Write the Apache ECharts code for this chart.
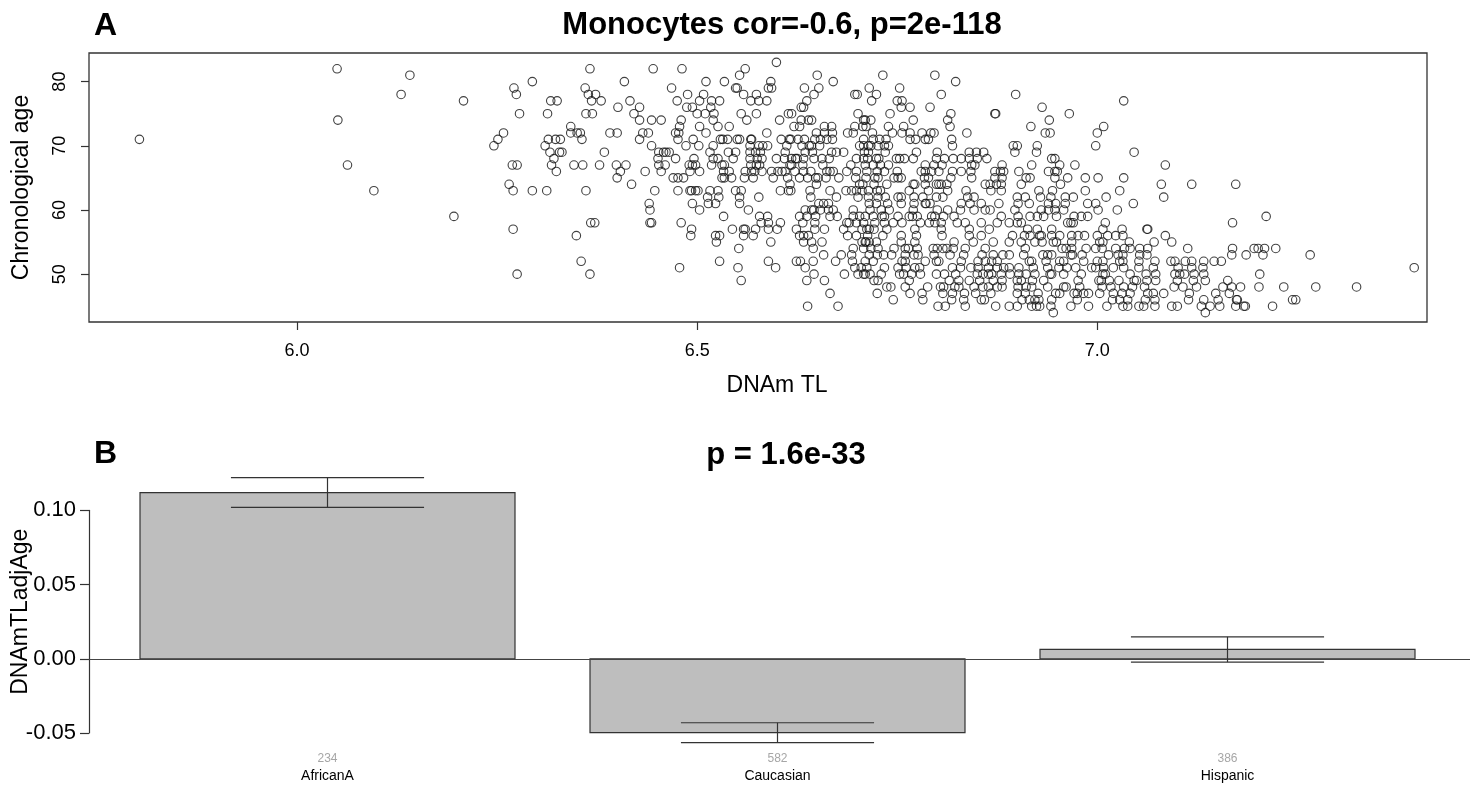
<!DOCTYPE html>
<html>
<head>
<meta charset="utf-8">
<title>Monocytes DNAm TL</title>
<script src="https://cdn.jsdelivr.net/npm/echarts@6.0.0/dist/echarts.min.js"></script>
<style>
  html, body { margin: 0; padding: 0; background: #fff; }
  #main { width: 1473px; height: 785px; }
</style>
</head>
<body>
<div id="main"></div>
<script>
const ageLevels = [83, 82, 81, 80, 79, 78, 77, 76, 75, 74, 73, 72, 71, 70, 69, 68, 67, 66, 65, 64,
  63, 62, 61, 60, 59, 58, 57, 56, 55, 54, 53, 52, 51, 50, 49, 48, 47, 46, 45, 44];
const tlAtAge = [
  [6.599],
  [6.050, 6.366, 6.445, 6.481, 6.560],
  [6.141, 6.553, 6.650, 6.732, 6.797],
  [6.294, 6.409, 6.511, 6.534, 6.592, 6.670, 6.823],
  [6.271, 6.360, 6.468, 6.548, 6.550, 6.589, 6.593, 6.634, 6.652, 6.715, 6.753],
  [6.130, 6.274, 6.364, 6.373, 6.488, 6.508, 6.558, 6.574, 6.646, 6.697, 6.700, 6.724, 6.805, 6.898],
  [6.208, 6.317, 6.325, 6.368, 6.380, 6.416, 6.475, 6.503, 6.518, 6.528, 6.567, 6.577, 6.587, 6.637, 6.718, 6.750, 6.756, 7.033],
  [6.401, 6.428, 6.487, 6.494, 6.517, 6.630, 6.633, 6.755, 6.766, 6.791, 6.931],
  [6.278, 6.313, 6.361, 6.369, 6.421, 6.500, 6.510, 6.521, 6.555, 6.574, 6.614, 6.618, 6.701, 6.741, 6.817, 6.872, 6.873, 6.965],
  [6.051, 6.428, 6.443, 6.455, 6.480, 6.520, 6.562, 6.603, 6.630, 6.639, 6.643, 6.708, 6.710, 6.717, 6.770, 6.813, 6.940],
  [6.342, 6.478, 6.503, 6.526, 6.540, 6.621, 6.628, 6.659, 6.668, 6.697, 6.707, 6.711, 6.739, 6.758, 6.816, 6.917, 7.008],
  [6.258, 6.342, 6.350, 6.354, 6.391, 6.400, 6.432, 6.439, 6.473, 6.477, 6.511, 6.587, 6.649, 6.659, 6.669, 6.688, 6.695,
   6.719, 6.744, 6.756, 6.766, 6.781, 6.792, 6.796, 6.837, 6.935, 6.941, 7.000],
  [5.803, 6.251, 6.314, 6.323, 6.329, 6.356, 6.428, 6.476, 6.495, 6.529, 6.532, 6.538, 6.550, 6.553, 6.567, 6.568, 6.605,
   6.615, 6.617, 6.626, 6.634, 6.647, 6.654, 6.662, 6.669, 6.708, 6.720, 6.728, 6.736, 6.766, 6.773, 6.785, 6.789, 6.818],
  [6.246, 6.310, 6.443, 6.486, 6.502, 6.520, 6.566, 6.577, 6.582, 6.588, 6.612, 6.631, 6.640, 6.643, 6.653, 6.703, 6.708,
   6.714, 6.717, 6.726, 6.734, 6.739, 6.819, 6.895, 6.900, 6.925, 6.998],
  [6.316, 6.328, 6.331, 6.384, 6.452, 6.458, 6.461, 6.465, 6.516, 6.539, 6.548, 6.566, 6.573, 6.579, 6.610, 6.635, 6.644,
   6.668, 6.674, 6.683, 6.709, 6.714, 6.735, 6.774, 6.800, 6.840, 6.849, 6.858, 6.897, 6.924, 7.046],
  [6.321, 6.451, 6.473, 6.496, 6.520, 6.526, 6.545, 6.566, 6.575, 6.581, 6.599, 6.609, 6.618, 6.623, 6.625, 6.633, 6.646,
   6.656, 6.665, 6.699, 6.708, 6.713, 6.724, 6.727, 6.749, 6.753, 6.759, 6.770, 6.799, 6.809, 6.820, 6.830, 6.840, 6.850,
   6.862, 6.943, 6.947],
  [6.063, 6.269, 6.275, 6.318, 6.346, 6.357, 6.378, 6.399, 6.411, 6.452, 6.460, 6.490, 6.494, 6.498, 6.518, 6.531, 6.534,
   6.567, 6.574, 6.578, 6.616, 6.618, 6.632, 6.657, 6.692, 6.710, 6.720, 6.729, 6.739, 6.785, 6.796, 6.806, 6.843, 6.847,
   6.881, 6.918, 6.953, 6.972, 7.085],
  [6.324, 6.404, 6.435, 6.455, 6.491, 6.503, 6.533, 6.540, 6.560, 6.568, 6.572, 6.581, 6.593, 6.601, 6.606, 6.610, 6.622,
   6.633, 6.642, 6.662, 6.666, 6.670, 6.687, 6.699, 6.712, 6.725, 6.734, 6.750, 6.780, 6.785, 6.793, 6.802, 6.819, 6.830,
   6.842, 6.872, 6.879, 6.883, 6.902, 6.939, 6.947, 6.950],
  [6.400, 6.470, 6.476, 6.483, 6.531, 6.534, 6.543, 6.559, 6.570, 6.595, 6.613, 6.628, 6.638, 6.648, 6.651, 6.661, 6.677,
   6.698, 6.711, 6.722, 6.726, 6.746, 6.751, 6.755, 6.784, 6.789, 6.817, 6.843, 6.872, 6.881, 6.911, 6.916, 6.947, 6.963,
   6.985, 7.001, 7.033],
  [6.265, 6.418, 6.616, 6.649, 6.703, 6.707, 6.721, 6.737, 6.770, 6.772, 6.785, 6.799, 6.802, 6.805, 6.812, 6.860, 6.866,
   6.874, 6.880, 6.905, 6.954, 7.080, 7.118, 7.173],
  [6.096, 6.270, 6.294, 6.312, 6.361, 6.447, 6.476, 6.491, 6.493, 6.498, 6.501, 6.516, 6.526, 6.548, 6.555, 6.604, 6.614,
   6.617, 6.641, 6.666, 6.686, 6.693, 6.699, 6.706, 6.714, 6.725, 6.729, 6.765, 6.789, 6.813, 6.836, 6.867, 6.880, 6.927,
   6.944, 6.985, 7.028],
  [6.513, 6.527, 6.553, 6.577, 6.642, 6.674, 6.701, 6.714, 6.726, 6.735, 6.751, 6.755, 6.771, 6.782, 6.799, 6.807, 6.838,
   6.846, 6.900, 6.910, 6.929, 6.942, 6.960, 6.970, 7.011, 7.083],
  [6.440, 6.494, 6.514, 6.523, 6.553, 6.652, 6.658, 6.664, 6.715, 6.724, 6.738, 6.755, 6.771, 6.785, 6.786, 6.791, 6.830,
   6.841, 6.855, 6.877, 6.901, 6.915, 6.939, 6.948, 6.960, 6.988, 6.998, 7.045],
  [6.441, 6.503, 6.564, 6.635, 6.643, 6.646, 6.654, 6.664, 6.670, 6.695, 6.716, 6.730, 6.740, 6.770, 6.800, 6.813, 6.829,
   6.846, 6.860, 6.866, 6.897, 6.930, 6.939, 6.947, 6.958, 7.001, 7.025],
  [6.196, 6.533, 6.578, 6.588, 6.628, 6.637, 6.648, 6.666, 6.675, 6.695, 6.703, 6.710, 6.720, 6.731, 6.734, 6.751, 6.765,
   6.769, 6.775, 6.793, 6.797, 6.808, 6.821, 6.880, 6.901, 6.916, 6.925, 6.933, 6.949, 6.971, 6.980, 6.988, 7.211],
  [6.367, 6.372, 6.441, 6.443, 6.480, 6.580, 6.589, 6.604, 6.632, 6.647, 6.687, 6.690, 6.699, 6.708, 6.722, 6.734, 6.745,
   6.756, 6.779, 6.790, 6.797, 6.805, 6.825, 6.835, 6.855, 6.875, 6.890, 6.900, 6.905, 6.963, 6.967, 6.970, 7.010, 7.169],
  [6.270, 6.493, 6.544, 6.558, 6.560, 6.573, 6.589, 6.600, 6.624, 6.647, 6.659, 6.683, 6.706, 6.712, 6.715, 6.721, 6.737,
   6.772, 6.805, 6.840, 6.865, 6.913, 6.925, 6.943, 7.007, 7.031, 7.062, 7.063],
  [6.349, 6.492, 6.523, 6.528, 6.558, 6.570, 6.628, 6.633, 6.639, 6.688, 6.699, 6.713, 6.732, 6.755, 6.774, 6.806, 6.840,
   6.855, 6.894, 6.909, 6.916, 6.928, 6.930, 6.943, 6.953, 6.968, 6.976, 6.984, 7.000, 7.013, 7.023, 7.032, 7.085],
  [6.524, 6.592, 6.633, 6.643, 6.656, 6.706, 6.710, 6.711, 6.715, 6.724, 6.755, 6.772, 6.821, 6.845, 6.870, 6.890, 6.905,
   6.922, 6.931, 6.945, 6.949, 6.968, 7.003, 7.007, 7.040, 7.071, 7.093],
  [6.552, 6.645, 6.695, 6.708, 6.717, 6.726, 6.746, 6.760, 6.764, 6.775, 6.795, 6.800, 6.807, 6.812, 6.820, 6.835, 6.860,
   6.910, 6.956, 6.961, 6.968, 6.986, 6.998, 7.006, 7.023, 7.034, 7.041, 7.053, 7.063, 7.113, 7.169, 7.196, 7.201, 7.209, 7.223],
  [6.658, 6.680, 6.693, 6.715, 6.725, 6.733, 6.743, 6.760, 6.771, 6.776, 6.796, 6.816, 6.833, 6.856, 6.870, 6.882, 6.890,
   6.908, 6.932, 6.938, 6.943, 6.967, 6.969, 6.981, 7.014, 7.026, 7.032, 7.053, 7.062, 7.168, 7.186, 7.207, 7.266],
  [6.355, 6.528, 6.589, 6.624, 6.629, 6.645, 6.673, 6.694, 6.710, 6.720, 6.756, 6.760, 6.785, 6.799, 6.802, 6.830, 6.851,
   6.860, 6.868, 6.875, 6.915, 6.918, 6.936, 6.953, 6.958, 6.983, 7.000, 7.007, 7.028, 7.032, 7.052, 7.072, 7.092, 7.097,
   7.110, 7.118, 7.133, 7.146, 7.155],
  [6.478, 6.551, 6.598, 6.635, 6.697, 6.705, 6.712, 6.734, 6.751, 6.761, 6.772, 6.778, 6.819, 6.829, 6.842, 6.851, 6.864,
   6.875, 6.883, 6.890, 6.902, 6.920, 6.938, 6.952, 6.962, 6.973, 6.993, 6.998, 7.008, 7.020, 7.033, 7.052, 7.070, 7.101,
   7.118, 7.132, 7.396],
  [6.275, 6.366, 6.646, 6.684, 6.701, 6.708, 6.710, 6.716, 6.730, 6.753, 6.758, 6.768, 6.779, 6.799, 6.809, 6.823, 6.850,
   6.857, 6.864, 6.868, 6.880, 6.891, 6.902, 6.911, 6.922, 6.941, 6.943, 6.958, 6.980, 7.007, 7.010, 7.041, 7.061, 7.073,
   7.097, 7.103, 7.109, 7.121, 7.133, 7.203],
  [6.555, 6.637, 6.659, 6.721, 6.726, 6.765, 6.815, 6.827, 6.840, 6.853, 6.870, 6.881, 6.900, 6.905, 6.919, 6.933, 6.976,
   7.002, 7.005, 7.015, 7.027, 7.046, 7.049, 7.062, 7.073, 7.100, 7.120, 7.135, 7.163],
  [6.737, 6.742, 6.760, 6.788, 6.804, 6.808, 6.822, 6.827, 6.846, 6.857, 6.864, 6.875, 6.881, 6.901, 6.911, 6.918, 6.938,
   6.958, 6.961, 6.978, 7.006, 7.017, 7.033, 7.044, 7.059, 7.096, 7.107, 7.124, 7.157, 7.168, 7.179, 7.202, 7.233, 7.273, 7.324],
  [6.666, 6.725, 6.766, 6.781, 6.807, 6.819, 6.834, 6.848, 6.867, 6.900, 6.910, 6.926, 6.948, 6.953, 6.971, 6.975, 6.983,
   6.989, 7.003, 7.020, 7.031, 7.041, 7.063, 7.070, 7.083, 7.115, 7.148, 7.165],
  [6.745, 6.782, 6.818, 6.833, 6.855, 6.859, 6.906, 6.915, 6.922, 6.927, 6.943, 6.975, 7.019, 7.028, 7.038, 7.060, 7.072,
   7.114, 7.133, 7.151, 7.174, 7.175, 7.244, 7.248],
  [6.638, 6.676, 6.801, 6.810, 6.835, 6.873, 6.890, 6.900, 6.918, 6.924, 6.928, 6.942, 6.967, 6.989, 7.012, 7.032, 7.038,
   7.052, 7.058, 7.072, 7.093, 7.100, 7.130, 7.141, 7.153, 7.173, 7.183, 7.185, 7.219],
  [6.945, 7.135]
];
const tlTicks = [6.0, 6.5, 7.0];
const ageTicks = [50, 60, 70, 80];

// panel B: DNAmTLadjAge by ethnicity
const groups = ['AfricanA', 'Caucasian', 'Hispanic'];
const groupN = [234, 582, 386];
const groupMean = [0.112, -0.0498, 0.0063];
const groupLow = [0.1021, -0.0565, -0.0022];
const groupHigh = [0.1221, -0.0431, 0.0148];
const barTicks = [-0.05, 0.00, 0.05, 0.10];

// R barplot puts bar i at 0.7 + 1.2*i (width 1, space 0.2)
const barPos = groups.map((g, i) => 0.7 + 1.2 * i);

const points = [];
ageLevels.forEach(function (age, i) {
  tlAtAge[i].forEach(function (tl) { points.push([tl, age]); });
});

const FONT = '"Liberation Sans", Arial, sans-serif';
const chart = echarts.init(document.getElementById('main'), null, { renderer: 'canvas' });

chart.setOption({
  animation: false,
  backgroundColor: '#fff',
  textStyle: { fontFamily: FONT, color: '#000' },
  title: [
    { text: 'A', left: 89, top: 5, textStyle: { fontSize: 32, fontWeight: 'bold', fontFamily: FONT, color: '#000' } },
    { text: 'Monocytes cor=-0.6, p=2e-118', left: 777, top: 5, textAlign: 'center',
      textStyle: { fontSize: 31, fontWeight: 'bold', fontFamily: FONT, color: '#000' } },
    { text: 'B', left: 89, top: 433, textStyle: { fontSize: 32, fontWeight: 'bold', fontFamily: FONT, color: '#000' } },
    { text: 'p = 1.6e-33', left: 781, top: 435, textAlign: 'center',
      textStyle: { fontSize: 31, fontWeight: 'bold', fontFamily: FONT, color: '#000' } }
  ],
  grid: [
    { left: 89, right: 46, top: 53, height: 269, show: true, borderColor: '#333', borderWidth: 1.3,
      backgroundColor: 'transparent', containLabel: false, outerBoundsMode: 'none' },
    { left: 89, right: 3, top: 510.4, height: 222.6, containLabel: false, outerBoundsMode: 'none' }
  ],
  xAxis: [
    {
      gridIndex: 0, type: 'value', min: 5.74, max: 7.412,
      name: 'DNAm TL', nameLocation: 'middle', nameGap: 52, nameMoveOverlap: false,
      nameTextStyle: { fontSize: 23, fontFamily: FONT, color: '#000', padding: [0, 0, 0, 38] },
      axisLine: { show: false },
      axisTick: { show: true, inside: false, length: 8, customValues: tlTicks, lineStyle: { color: '#333', width: 1.2 } },
      axisLabel: { customValues: tlTicks, margin: 20, fontSize: 18, color: '#000', fontFamily: FONT,
        formatter: function (v) { return v.toFixed(1); } },
      splitLine: { show: false }
    },
    {
      // bar centres at 327.5 / 777.5 / 1227.5 px -> 375 px per unit
      gridIndex: 1, type: 'value', min: 0.064, max: 0.064 + 1381 / 375, position: 'bottom',
      axisLine: { show: false, onZero: false },
      axisTick: { show: false },
      axisLabel: {
        customValues: barPos, margin: 17, interval: 0,
        formatter: function (v) {
          const i = Math.round((v - 0.7) / 1.2);
          return '{n|' + groupN[i] + '}\n{c|' + groups[i] + '}';
        },
        rich: {
          n: { fontSize: 12, color: '#a6a6a6', fontFamily: FONT, lineHeight: 17, align: 'center' },
          c: { fontSize: 14, color: '#000', fontFamily: FONT, lineHeight: 18, align: 'center' }
        }
      },
      splitLine: { show: false }
    }
  ],
  yAxis: [
    {
      gridIndex: 0, type: 'value', min: 42.54, max: 84.46,
      name: 'Chronological age', nameLocation: 'middle', nameGap: 56, nameRotate: 90, nameMoveOverlap: false,
      nameTextStyle: { fontSize: 23, fontFamily: FONT, color: '#000' },
      axisLine: { show: false },
      axisTick: { show: true, inside: false, length: 8, customValues: ageTicks, lineStyle: { color: '#333', width: 1.2 } },
      axisLabel: { customValues: ageTicks, rotate: 90, margin: 20, fontSize: 18, color: '#000', fontFamily: FONT },
      splitLine: { show: false }
    },
    {
      gridIndex: 1, type: 'value', min: -0.05, max: 0.10, interval: 0.05,
      name: 'DNAmTLadjAge', nameLocation: 'middle', nameGap: 57, nameRotate: 90, nameMoveOverlap: false,
      nameTextStyle: { fontSize: 23, fontFamily: FONT, color: '#000', padding: [0, 0, 0, 20] },
      axisLine: { show: true, onZero: false, lineStyle: { color: '#333', width: 1.2 } },
      axisTick: { show: true, inside: false, length: 9, customValues: barTicks, lineStyle: { color: '#333', width: 1.2 } },
      axisLabel: { customValues: barTicks, margin: 13, fontSize: 22, color: '#000', fontFamily: FONT,
        formatter: function (v) { return v.toFixed(2); } },
      splitLine: { show: false }
    }
  ],
  series: [
    {
      type: 'scatter', xAxisIndex: 0, yAxisIndex: 0,
      data: points,
      symbol: 'circle', symbolSize: 8.5,
      itemStyle: { color: 'rgba(0,0,0,0)', borderColor: '#111', borderWidth: 1.1 },
      emphasis: { disabled: true },
      silent: true
    },
    {
      // bars drawn as rects from 0 to the mean, one unit wide
      type: 'custom', xAxisIndex: 1, yAxisIndex: 1, silent: true, clip: false,
      data: barPos.map((p, i) => [p, groupMean[i]]),
      encode: { x: 0, y: 1 },
      renderItem: function (params, api) {
        const x = api.value(0), m = api.value(1);
        const a = api.coord([x - 0.5, Math.max(m, 0)]);
        const b = api.coord([x + 0.5, Math.min(m, 0)]);
        return {
          type: 'rect',
          shape: { x: a[0], y: a[1], width: b[0] - a[0], height: b[1] - a[1] },
          style: { fill: '#bebebe', stroke: '#333', lineWidth: 1.2 }
        };
      },
      markLine: {
        silent: true, symbol: 'none', label: { show: false },
        lineStyle: { color: '#444', width: 1.2, type: 'solid' },
        data: [{ yAxis: 0 }]
      },
      z: 3
    },
    {
      // error bars
      type: 'custom', xAxisIndex: 1, yAxisIndex: 1, silent: true, clip: false,
      data: barPos.map((p, i) => [p, groupLow[i], groupHigh[i]]),
      renderItem: function (params, api) {
        const lo = api.coord([api.value(0), api.value(1)]);
        const hi = api.coord([api.value(0), api.value(2)]);
        const half = api.size([1, 0])[0] * 0.2575;
        const style = { stroke: '#333', lineWidth: 1.2 };
        return {
          type: 'group',
          children: [
            { type: 'line', shape: { x1: lo[0], y1: lo[1], x2: hi[0], y2: hi[1] }, style: style },
            { type: 'line', shape: { x1: lo[0] - half, y1: lo[1], x2: lo[0] + half, y2: lo[1] }, style: style },
            { type: 'line', shape: { x1: hi[0] - half, y1: hi[1], x2: hi[0] + half, y2: hi[1] }, style: style }
          ]
        };
      },
      encode: { x: 0, y: [1, 2] },
      z: 5
    }
  ]
});
</script>
</body>
</html>
